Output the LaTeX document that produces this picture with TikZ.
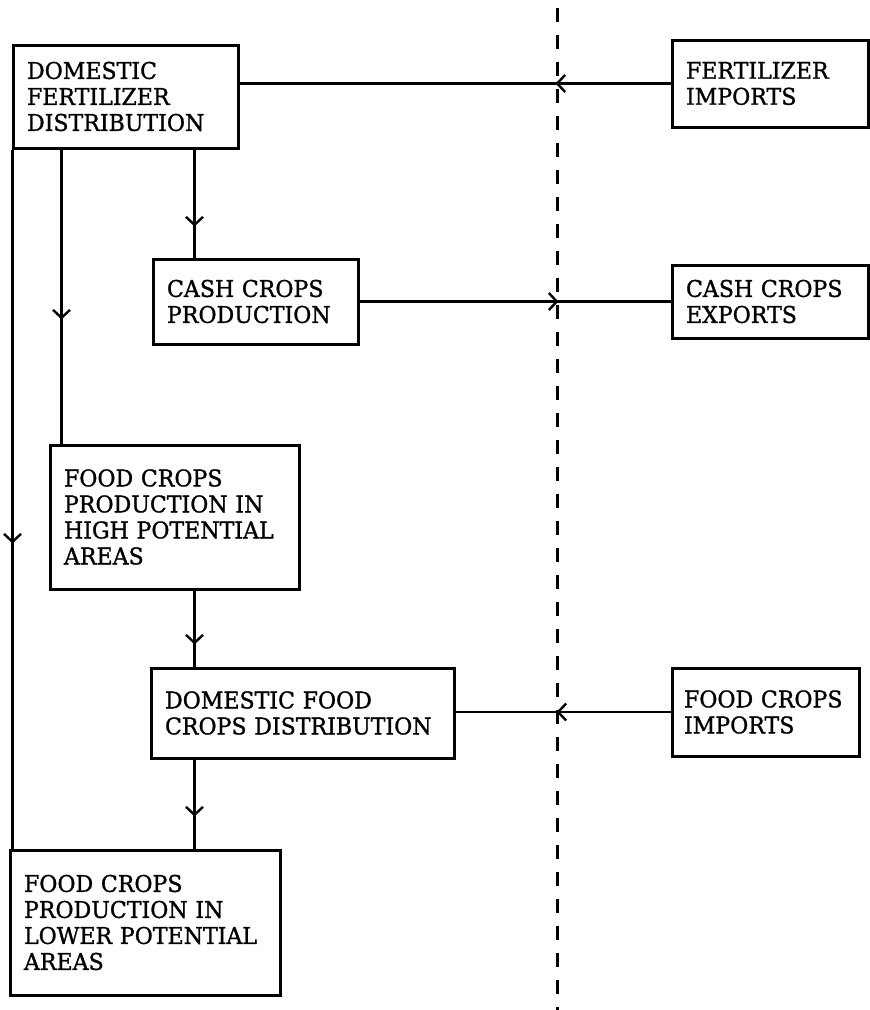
\documentclass[tikz,border=0pt]{standalone}
\usepackage{fontspec}
\setmainfont{DejaVu Serif}[FakeStretch=0.96, FakeBold=1.2]
\usepackage{tikz}
\usetikzlibrary{calc, arrows.meta, decorations.markings}
\hyphenpenalty=10000

\begin{document}
\begin{tikzpicture}[x=1pt, y=-1pt,
    box/.style={draw, line width=3pt, rectangle, inner xsep=14pt, inner ysep=0pt,
        align=left, font=\fontsize{23}{26}\selectfont},
    flow/.style={line width=2.4pt, postaction={decorate},
        decoration={markings, mark=at position #1 with {\arrow{Straight Barb[length=8pt,width=17pt]}}}},
    divider/.style={line width=3pt, dash pattern=on 14pt off 13pt, dash phase=-8pt}]
    \useasboundingbox (0,0) rectangle (870,1010);
    % boxes
    \node[box, text width=197pt, minimum height=103pt](dfd) at (125.5,96.5){DOMESTIC\\FERTILIZER\\DISTRIBUTION};
    \node[box, text width=168pt, minimum height=87pt](fi) at (770,83.5){FERTILIZER\\IMPORTS};
    \node[box, text width=177pt, minimum height=85pt](ccp) at (255.5,301.5){CASH CROPS\\PRODUCTION};
    \node[box, text width=168pt, minimum height=73pt](cce) at (770,301.5){CASH CROPS\\EXPORTS};
    \node[box, text width=221pt, minimum height=144pt](high) at (174.5,517){FOOD CROPS\\PRODUCTION IN\\HIGH POTENTIAL\\AREAS};
    \node[box, text width=275pt, minimum height=90pt](dfc) at (302.5,713){DOMESTIC FOOD\\CROPS DISTRIBUTION};
    \node[box, inner xsep=12pt, text width=163pt, minimum height=88pt](fci) at (765.5,712){FOOD CROPS\\IMPORTS};
    \node[box, text width=242pt, minimum height=145pt](low) at (145,922.5){FOOD CROPS\\PRODUCTION IN\\LOWER POTENTIAL\\AREAS};
    % border line
    \coordinate (top) at (557,0);
    \coordinate (bottom) at (557,1010);
    \draw[divider](top)--(bottom);
    % flows across the border
    \draw[flow=115pt](fi.west)--(fi.west -| dfd.east);
    \draw[flow=199pt](ccp.east)--(cce.west);
    \draw[flow=114pt](fci.west)--(fci.west -| dfc.east);
    % domestic flows
    \draw[flow=394pt]($(dfd.south west)+(1,0)$)--($(low.north west)+(4,0)$);
    \draw[flow=170pt]($(dfd.south west)+(50,0)$)--($(high.north west)+(13,0)$);
    \draw[flow=77pt]($(dfd.south west)+(183,0)$)--($(ccp.north west)+(43,0)$);
    \draw[flow=54pt]($(high.south west)+(146,0)$)--($(dfc.north west)+(45,0)$);
    \draw[flow=57pt]($(dfc.south west)+(45,0)$)--($(low.north west)+(186,0)$);
\end{tikzpicture}
\end{document}
